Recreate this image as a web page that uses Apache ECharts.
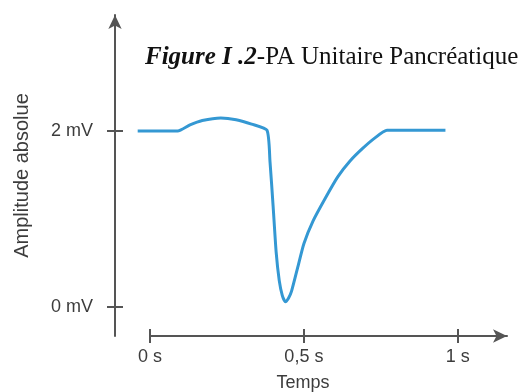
<!DOCTYPE html>
<html>
<head>
<meta charset="utf-8">
<script src="https://cdn.jsdelivr.net/npm/echarts@6/dist/echarts.min.js"></script>
<style>
  html, body { margin: 0; padding: 0; background: #fff; }
  #chart { width: 523px; height: 392px; }
</style>
</head>
<body>
<div id="chart"></div>
<script>
// temps (s) et amplitude (mV)
var timeValues = [-0.04, 0.09, 0.13, 0.17, 0.23, 0.28, 0.33, 0.38, 0.39, 0.40, 0.41, 0.42, 0.43, 0.44, 0.45, 0.46, 0.48, 0.50, 0.53, 0.57, 0.61, 0.65, 0.69, 0.73, 0.77, 0.96];
var amplitudeValues = [2.0, 2.0, 2.07, 2.12, 2.15, 2.13, 2.08, 2.01, 1.65, 1.15, 0.62, 0.3, 0.13, 0.06, 0.1, 0.18, 0.45, 0.72, 0.98, 1.24, 1.48, 1.66, 1.8, 1.92, 2.01, 2.01];

var xTickValues = [0, 0.5, 1];
var xTickLabels = ['0 s', '0,5 s', '1 s'];
var yTickValues = [0, 2];
var yTickLabels = ['0 mV', '2 mV'];

var axisColor = '#555';
var textColor = '#3c3c3c';
var labelFont = 'Liberation Sans';

var seriesData = [];
for (var i = 0; i < timeValues.length; i++) {
  seriesData.push([timeValues[i], amplitudeValues[i]]);
}

var chart = echarts.init(document.getElementById('chart'), null, { renderer: 'canvas' });

var option = {
  animation: false,
  title: {
    left: 140,
    top: 40,
    text: '{b|Figure I .2}{n|-PA Unitaire Pancréatique}',
    textStyle: {
      rich: {
        b: { fontFamily: 'Liberation Serif', fontStyle: 'italic', fontWeight: 'bold', fontSize: 25, color: '#111' },
        n: { fontFamily: 'Liberation Serif', fontWeight: 'normal', fontSize: 25, color: '#111' }
      }
    }
  },
  graphic: [{
    type: 'text',
    x: 303,
    y: 383,
    style: {
      text: 'Temps',
      fontFamily: labelFont,
      fontSize: 18,
      fill: textColor,
      align: 'center',
      verticalAlign: 'middle'
    }
  }],
  // grille 0 : courbe (commence un peu avant 0 s) ; grille 1 : axes visibles
  grid: [
    { left: 137, right: 16, top: 15, bottom: 56 },
    { left: 150, right: 16, top: 15, bottom: 56 }
  ],
  xAxis: [{
    type: 'value',
    gridIndex: 0,
    min: -0.0422,
    max: 1.16,
    show: false
  }, {
    type: 'value',
    gridIndex: 1,
    position: 'bottom',
    min: 0,
    max: 1.16,
    axisLine: {
      show: true,
      onZero: false,
      symbol: ['none', 'arrow'],
      symbolSize: [10, 14],
      lineStyle: { color: axisColor, width: 2 }
    },
    axisTick: { show: true, length: 7, customValues: xTickValues, lineStyle: { color: axisColor, width: 2 } },
    axisLabel: {
      customValues: xTickValues,
      margin: 12,
      fontFamily: labelFont,
      fontSize: 18,
      color: textColor,
      formatter: function (v) {
        var idx = xTickValues.indexOf(v);
        return idx >= 0 ? xTickLabels[idx] : '';
      }
    },
    splitLine: { show: false }
  }, {
    type: 'value',
    gridIndex: 1,
    position: 'bottom',
    min: 0,
    max: 1.16,
    axisLine: { show: false, onZero: false },
    axisTick: { show: true, inside: true, length: 7, customValues: xTickValues, lineStyle: { color: axisColor, width: 2 } },
    axisLabel: { show: false },
    splitLine: { show: false }
  }],
  yAxis: [{
    type: 'value',
    gridIndex: 0,
    min: -0.33,
    max: 3.32,
    show: false
  }, {
    type: 'value',
    gridIndex: 1,
    position: 'left',
    offset: 35,
    min: -0.33,
    max: 3.32,
    name: 'Amplitude absolue',
    nameLocation: 'middle',
    nameGap: 83,
    nameTextStyle: { fontFamily: labelFont, fontSize: 20, color: textColor },
    axisLine: {
      show: true,
      onZero: false,
      symbol: ['none', 'arrow'],
      symbolSize: [10, 14],
      lineStyle: { color: axisColor, width: 2 }
    },
    axisTick: { show: true, length: 8, customValues: yTickValues, lineStyle: { color: axisColor, width: 2 } },
    axisLabel: {
      customValues: yTickValues,
      margin: 22,
      fontFamily: labelFont,
      fontSize: 18,
      color: textColor,
      formatter: function (v) {
        var idx = yTickValues.indexOf(v);
        return idx >= 0 ? yTickLabels[idx] : '';
      }
    },
    splitLine: { show: false }
  }, {
    type: 'value',
    gridIndex: 1,
    position: 'left',
    offset: 35,
    min: -0.33,
    max: 3.32,
    axisLine: { show: false, onZero: false },
    axisTick: { show: true, inside: true, length: 8, customValues: yTickValues, lineStyle: { color: axisColor, width: 2 } },
    axisLabel: { show: false },
    splitLine: { show: false }
  }],
  series: [{
    type: 'line',
    xAxisIndex: 0,
    yAxisIndex: 0,
    data: seriesData,
    showSymbol: false,
    smooth: 0.2,
    lineStyle: { color: '#3498d3', width: 3 }
  }]
};

chart.setOption(option);
</script>
</body>
</html>
